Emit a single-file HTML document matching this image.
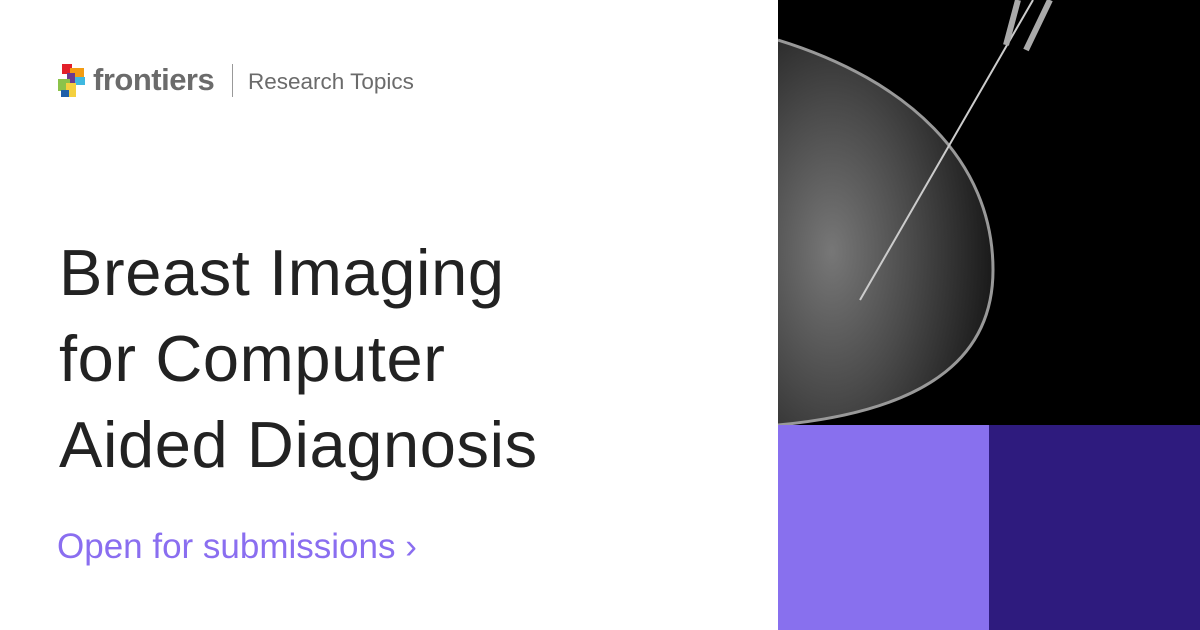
<!DOCTYPE html>
<html><head><meta charset="utf-8"><style>
body{margin:0;width:1200px;height:630px;background:#fff;position:relative;overflow:hidden;font-family:"Liberation Sans",sans-serif}
.abs{position:absolute}
</style></head><body>
<div class="abs" style="left:58px;top:64px;width:370px;height:36px">
 <svg width="32" height="34" viewBox="0 0 32 34" style="position:absolute;left:0;top:0">
  <rect x="4" y="0" width="10" height="10" fill="#e3202a"/>
  <rect x="12" y="4" width="14" height="12" fill="#f39c12"/>
  <rect x="9" y="9" width="8" height="10" fill="#6b3a8e"/>
  <rect x="17" y="13" width="10" height="8" fill="#3fb8e0"/>
  <rect x="0" y="15" width="12" height="12" fill="#8bc34a"/>
  <rect x="8" y="19" width="10" height="14" fill="#f4d03f"/>
  <rect x="3" y="26" width="8" height="7" fill="#1f5fa8"/>
 </svg>
 <span class="abs" style="left:35px;top:-2px;font-size:31px;font-weight:bold;color:#6b6b6b;letter-spacing:-0.5px">frontiers</span>
 <div class="abs" style="left:174px;top:0;width:1px;height:33px;background:#999"></div>
 <span class="abs" style="left:190px;top:5px;font-size:22.5px;color:#6b6b6b">Research Topics</span>
</div>
<div class="abs" style="left:59px;top:230px;font-size:65px;line-height:86px;color:#222;letter-spacing:0.6px">Breast Imaging<br>for Computer<br>Aided Diagnosis</div>
<div class="abs" style="left:57px;top:527px;font-size:35px;color:#8a6ef0">Open for submissions ›</div>
<div class="abs" style="left:778px;top:0;width:422px;height:425px;background:#000;overflow:hidden">
 <svg width="422" height="425">
  <defs>
   <radialGradient id="g" cx="0.25" cy="0.55" r="0.75">
    <stop offset="0" stop-color="#777"/><stop offset="0.5" stop-color="#4a4a4a"/><stop offset="1" stop-color="#1a1a1a"/>
   </radialGradient>
  </defs>
  <path d="M0,40 C130,80 215,160 215,270 C215,350 160,410 0,425 Z" fill="url(#g)"/>
  <path d="M0,40 C130,80 215,160 215,270 C215,350 160,410 0,425" fill="none" stroke="#999" stroke-width="3"/>
  <line x1="255" y1="0" x2="82" y2="300" stroke="#ccc" stroke-width="2"/>
  <line x1="240" y1="0" x2="228" y2="45" stroke="#aaa" stroke-width="6"/>
  <line x1="272" y1="0" x2="248" y2="50" stroke="#aaa" stroke-width="6"/>
 </svg>
</div>
<div class="abs" style="left:778px;top:425px;width:211px;height:205px;background:#8870ee"></div>
<div class="abs" style="left:989px;top:425px;width:211px;height:205px;background:#2e1b7e"></div>
</body></html>
